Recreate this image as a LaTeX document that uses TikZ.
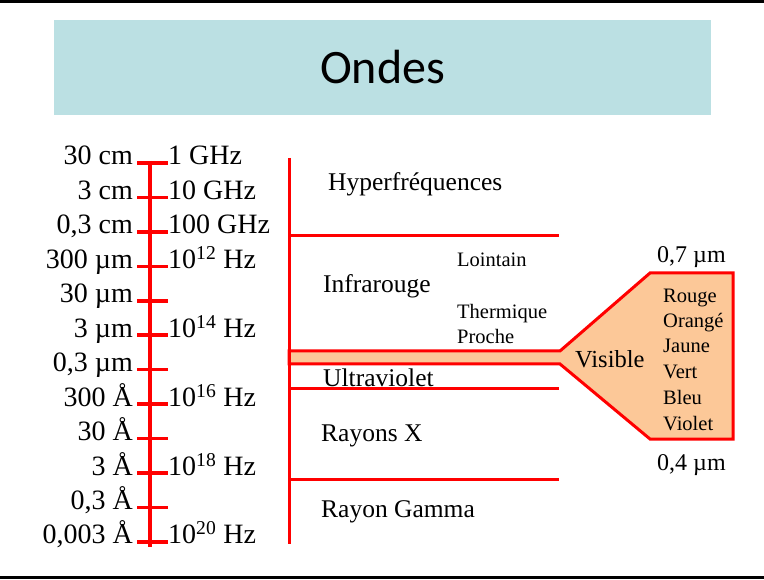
\documentclass[tikz,border=0pt]{standalone}
\usepackage{fontspec}
\setmainfont{Liberation Serif}
\newfontfamily\titlefont{Carlito}
\definecolor{titlebg}{RGB}{187,224,227}
\definecolor{peach}{RGB}{252,200,152}
\begin{document}
\begin{tikzpicture}[x=1pt,y=-1pt,
  redline/.style={draw=red,line width=3pt},
  tickline/.style={draw=red,line width=3.5pt},
  lbl/.style={inner sep=0pt,font=\fontsize{28}{30}\selectfont},
  band/.style={inner sep=0pt,font=\fontsize{25.5}{28}\selectfont,anchor=base west},
  small/.style={inner sep=0pt,font=\fontsize{20.5}{24}\selectfont,anchor=base west}]
\useasboundingbox (0,0) rectangle (764,580);
% frame lines
\draw[line width=3pt] (0,2) -- (764,2);
\draw[line width=3pt] (0,577.5) -- (764,577.5);
% title
\node[fill=titlebg,minimum width=657pt,minimum height=95pt,inner sep=0pt,
      font=\titlefont\fontsize{48}{54}\selectfont] (title) at (382.5,67.5) {Ondes};

% wavelength / frequency scale
\coordinate (axtop) at (150,161);
\coordinate (axbot) at (150,547);
\draw[redline,line width=3.5pt] (axtop) -- (axbot);
\foreach \i/\wl/\fr in {0/30 cm/1 GHz,1/3 cm/10 GHz,2/{0,3 cm}/100 GHz,
   3/300 µm/10\textsuperscript{12} Hz,4/30 µm/,5/3 µm/10\textsuperscript{14} Hz,
   6/{0,3 µm}/,7/300 Å/10\textsuperscript{16} Hz,8/30 Å/,
   9/3 Å/10\textsuperscript{18} Hz,10/{0,3 Å}/,11/{0,003 Å}/10\textsuperscript{20} Hz}{
  \pgfmathsetmacro\ty{163+\i*34.45}
  \coordinate (tl\i) at (137,\ty);
  \coordinate (tr\i) at (168,\ty);
  \draw[tickline] (tl\i) -- (tr\i);
  \node[lbl,anchor=base east] (wl\i) at (133,\ty+2) {\wl};
  \node[lbl,anchor=base west] (fr\i) at (168,\ty+2) {\fr};
}

% spectrum bands
\coordinate (sptop) at (289,158);
\coordinate (spbot) at (289,544);
\coordinate (h1a) at (289,236);  \coordinate (h1b) at (559,236);
\coordinate (h2a) at (289,389);  \coordinate (h2b) at (559,389);
\coordinate (h3a) at (289,479);  \coordinate (h3b) at (559,479);

% visible branch
\filldraw[fill=peach,draw=red,line width=3pt,line join=miter]
  (289,351) -- (560,351) -- (650,273) -- (733,273) -- (733,439)
  -- (650,439) -- (560,364) -- (289,364) -- cycle;

\draw[redline] (sptop) -- (spbot);
\draw[redline] (h1a) -- (h1b);
\draw[redline] (h2a) -- (h2b);
\draw[redline] (h3a) -- (h3b);

\node[band] (hyper) at (328,191) {Hyperfréquences};
\node[band] (ir) at (323,293) {Infrarouge};
\node[small] (loin) at (457,267) {Lointain};
\node[small] (therm) at (457,319) {Thermique};
\node[small] (proche) at (457,344) {Proche};
\node[band] (uv) at (323,387) {Ultraviolet};
\node[band] (rx) at (321,441) {Rayons X};
\node[band] (gamma) at (321,517) {Rayon Gamma};

\node[inner sep=0pt,anchor=base west,font=\fontsize{24.5}{28}\selectfont] (vis) at (575,367) {Visible};
\foreach \c/\yy in {Rouge/303,Orangé/328,Jaune/353,Vert/379,Bleu/404,Violet/430}{
  \node[small] (col-\c) at (663,\yy) {\c};
}
\node[inner sep=0pt,anchor=base west,font=\fontsize{24}{26}\selectfont] (l07) at (657,263) {0,7 µm};
\node[inner sep=0pt,anchor=base west,font=\fontsize{24}{26}\selectfont] (l04) at (657,470) {0,4 µm};
\end{tikzpicture}
\end{document}
